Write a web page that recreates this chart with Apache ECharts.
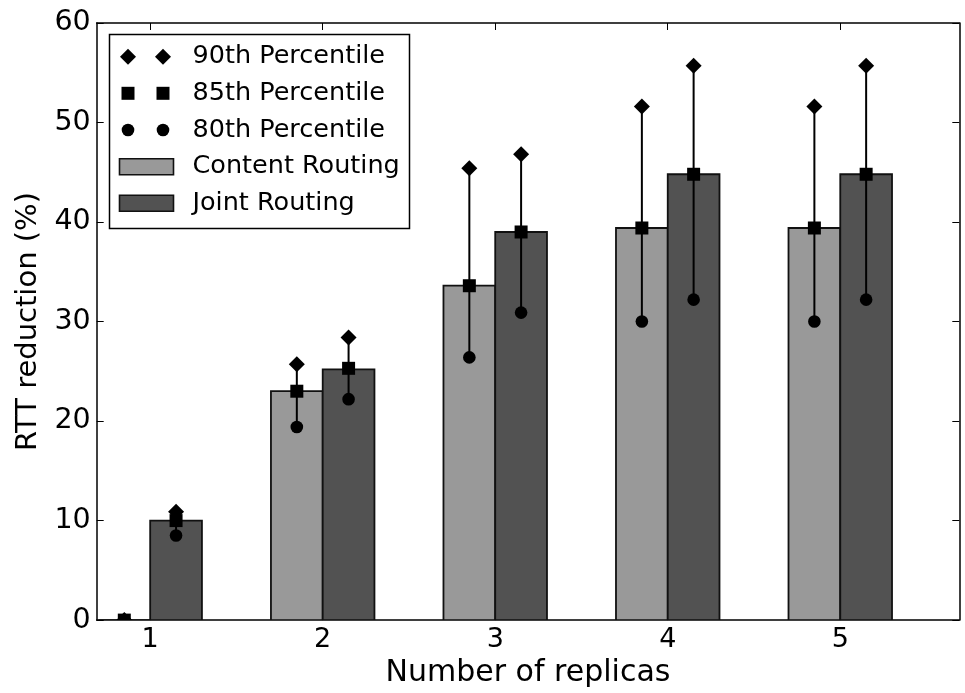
<!DOCTYPE html>
<html>
<head>
<meta charset="utf-8">
<script src="https://cdn.jsdelivr.net/npm/echarts@6/dist/echarts.min.js"></script>
<style>
html,body{margin:0;padding:0;background:#fff;overflow:hidden;}
#chart{width:965px;height:693px;}
</style>
</head>
<body>
<div id="chart"></div>
<script>
// ---- data ----
const categories = [1, 2, 3, 4, 5];
const contentBar = [0, 23.0, 33.6, 39.4, 39.4];
const contentP90 = [0, 25.7, 45.4, 51.6, 51.6];
const contentP85 = [0, 23.0, 33.6, 39.4, 39.4];
const contentP80 = [0, 19.4, 26.4, 30.0, 30.0];
const jointBar = [10.0, 25.2, 39.0, 44.8, 44.8];
const jointP90 = [10.9, 28.4, 46.8, 55.7, 55.7];
const jointP85 = [10.0, 25.3, 39.0, 44.8, 44.8];
const jointP80 = [8.5, 22.2, 30.9, 32.2, 32.2];
const yTicks = [0, 10, 20, 30, 40, 50, 60];
const seriesNames = ['90th Percentile', '85th Percentile', '80th Percentile', 'Content Routing', 'Joint Routing'];

// ---- layout / style ----
const BAR_HALF = 0.15;
const CONTENT_COLOR = '#999999';
const JOINT_COLOR = '#525252';
const FONT = 'DejaVu Sans';

const chart = echarts.init(document.getElementById('chart'));

function barRender(params, api) {
  const x = api.value(0), y = api.value(1);
  const p1 = api.coord([x - BAR_HALF, y]);
  const p2 = api.coord([x + BAR_HALF, 0]);
  return {
    type: 'rect',
    shape: { x: p1[0], y: p1[1], width: p2[0] - p1[0], height: p2[1] - p1[1] },
    style: { fill: api.visual('color'), stroke: '#111', lineWidth: 1.8 }
  };
}

function errRender(params, api) {
  const x = api.value(0);
  const p80 = api.coord([x, api.value(1)]);
  const p85 = api.coord([x, api.value(2)]);
  const p90 = api.coord([x, api.value(3)]);
  const d = 8, s = 6.5, r = 6.3;
  return {
    type: 'group',
    children: [
      { type: 'line', shape: { x1: p80[0], y1: p80[1], x2: p90[0], y2: p90[1] }, style: { stroke: '#000', lineWidth: 2 } },
      { type: 'polygon', shape: { points: [[p90[0], p90[1] - d], [p90[0] + d, p90[1]], [p90[0], p90[1] + d], [p90[0] - d, p90[1]]] }, style: { fill: '#000' } },
      { type: 'rect', shape: { x: p85[0] - s, y: p85[1] - s, width: 2 * s, height: 2 * s }, style: { fill: '#000' } },
      { type: 'circle', shape: { cx: p80[0], cy: p80[1], r: r }, style: { fill: '#000' } }
    ]
  };
}

const contentData = categories.map((c, i) => [c - BAR_HALF, contentBar[i]]);
const jointData = categories.map((c, i) => [c + BAR_HALF, jointBar[i]]);
const contentErr = categories.map((c, i) => [c - BAR_HALF, contentP80[i], contentP85[i], contentP90[i]]);
const jointErr = categories.map((c, i) => [c + BAR_HALF, jointP80[i], jointP85[i], jointP90[i]]);

// legend built as graphic
const LX = 109.5, LY = 34.5, LW = 300, LH = 194;
const rowY = [56.7, 93.3, 130, 166.7, 203.3];
const legendChildren = [
  { type: 'rect', shape: { x: LX, y: LY, width: LW, height: LH }, style: { fill: '#fff', stroke: '#000', lineWidth: 1.5 } }
];
const mx = [128, 163];
mx.forEach(x => {
  const y0 = rowY[0];
  legendChildren.push({ type: 'polygon', shape: { points: [[x, y0 - 8], [x + 8, y0], [x, y0 + 8], [x - 8, y0]] }, style: { fill: '#000' } });
  legendChildren.push({ type: 'rect', shape: { x: x - 6.5, y: rowY[1] - 6.5, width: 13, height: 13 }, style: { fill: '#000' } });
  legendChildren.push({ type: 'circle', shape: { cx: x, cy: rowY[2], r: 6.3 }, style: { fill: '#000' } });
});
legendChildren.push({ type: 'rect', shape: { x: 119.5, y: rowY[3] - 8, width: 54, height: 16 }, style: { fill: CONTENT_COLOR, stroke: '#111', lineWidth: 1.6 } });
legendChildren.push({ type: 'rect', shape: { x: 119.5, y: rowY[4] - 8, width: 54, height: 16 }, style: { fill: JOINT_COLOR, stroke: '#111', lineWidth: 1.6 } });
seriesNames.forEach((n, i) => {
  legendChildren.push({ type: 'text', style: { x: 192.5, y: rowY[i], text: n, fill: '#000', font: '25.5px "DejaVu Sans"', verticalAlign: 'middle', align: 'left' } });
});

const axisLineStyle = { color: '#000', width: 1.5 };
const option = {
  animation: false,
  backgroundColor: '#fff',
  grid: { left: 96.7, right: 5.7, top: 23, bottom: 62.3, containLabel: false },
  xAxis: [
    {
      type: 'value', position: 'bottom', min: 0.69, max: 5.69,
      axisLine: { show: true, onZero: false, lineStyle: axisLineStyle },
      axisTick: { show: true, inside: true, length: 7, customValues: categories, lineStyle: { color: '#000', width: 1 } },
      axisLabel: { show: true, customValues: categories, fontSize: 27, fontFamily: FONT, color: '#000', margin: 6 },
      splitLine: { show: false },
      name: 'Number of replicas', nameLocation: 'middle', nameGap: 34,
      nameTextStyle: { fontSize: 30, fontFamily: FONT, color: '#000' }
    },
    {
      type: 'value', position: 'top', min: 0.69, max: 5.69,
      axisLine: { show: true, onZero: false, lineStyle: axisLineStyle },
      axisTick: { show: true, inside: true, length: 7, customValues: categories, lineStyle: { color: '#000', width: 1 } },
      axisLabel: { show: false },
      splitLine: { show: false }
    }
  ],
  yAxis: [
    {
      type: 'value', position: 'left', min: 0, max: 60, interval: 10,
      axisLine: { show: true, onZero: false, lineStyle: axisLineStyle },
      axisTick: { show: true, inside: true, length: 7, lineStyle: { color: '#000', width: 1 } },
      axisLabel: { show: true, fontSize: 28.5, fontFamily: FONT, color: '#000', margin: 6 },
      splitLine: { show: false },
      name: 'RTT reduction (%)', nameLocation: 'middle', nameGap: 54, nameRotate: 90,
      nameTextStyle: { fontSize: 29, fontFamily: FONT, color: '#000' }
    },
    {
      type: 'value', position: 'right', min: 0, max: 60, interval: 10,
      axisLine: { show: true, onZero: false, lineStyle: axisLineStyle },
      axisTick: { show: true, inside: true, length: 7, lineStyle: { color: '#000', width: 1 } },
      axisLabel: { show: false },
      splitLine: { show: false }
    }
  ],
  series: [
    { name: 'Content Routing', type: 'custom', renderItem: barRender, data: contentData, itemStyle: { color: CONTENT_COLOR }, encode: { x: 0, y: 1 }, z: 2, clip: true },
    { name: 'Joint Routing', type: 'custom', renderItem: barRender, data: jointData, itemStyle: { color: JOINT_COLOR }, encode: { x: 0, y: 1 }, z: 2, clip: true },
    { name: 'Content percentiles', type: 'custom', renderItem: errRender, data: contentErr, encode: { x: 0, y: [1, 2, 3] }, z: 3, clip: true },
    { name: 'Joint percentiles', type: 'custom', renderItem: errRender, data: jointErr, encode: { x: 0, y: [1, 2, 3] }, z: 3, clip: true }
  ],
  graphic: [{ type: 'group', z: 100, children: legendChildren }]
};
chart.setOption(option);
</script>
</body>
</html>
